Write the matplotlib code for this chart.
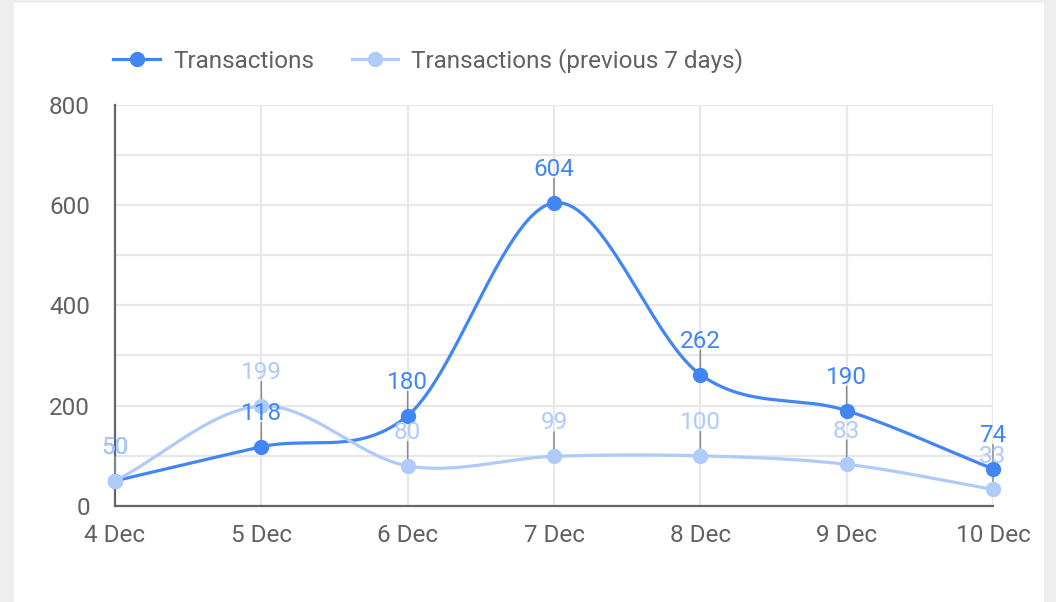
import numpy as np
import matplotlib
matplotlib.use("Agg")
import matplotlib.pyplot as plt
from matplotlib.lines import Line2D
from matplotlib.patches import Rectangle

plt.rcParams['font.family'] = ['Roboto', 'DejaVu Sans']

categories = ["4 Dec", "5 Dec", "6 Dec", "7 Dec", "8 Dec", "9 Dec", "10 Dec"]
transactions = [50, 118, 180, 604, 262, 190, 74]
transactions_prev = [50, 199, 80, 99, 100, 83, 33]
series_names = ["Transactions", "Transactions (previous 7 days)"]
yticks = [0, 200, 400, 600, 800]

DARK = "#4285f4"
LIGHT = "#aecbfa"
TXT = "#616161"
FS = 17.5

W, H = 1056, 602
fig = plt.figure(figsize=(W / 100, H / 100), dpi=100)
fig.patch.set_facecolor("#eeeeee")
fig.add_artist(Rectangle((14 / W, 0), (1044 - 14) / W, 1 - 3 / H,
                         transform=fig.transFigure, facecolor="white",
                         edgecolor="none", zorder=0))

ax = fig.add_axes([115 / W, 1 - 506 / H, (993 - 115) / W, (506 - 104.5) / H])
ax.set_facecolor("none")


def smooth(y, n=60):
    y = np.asarray(y, float)
    x = np.arange(len(y), dtype=float)
    m = np.zeros_like(y)
    m[1:-1] = (y[2:] - y[:-2]) / 2
    m[0] = y[1] - y[0]
    m[-1] = y[-1] - y[-2]
    xs, ys = [], []
    for i in range(len(y) - 1):
        t = np.linspace(0, 1, n)
        h00 = 2 * t**3 - 3 * t**2 + 1
        h10 = t**3 - 2 * t**2 + t
        h01 = -2 * t**3 + 3 * t**2
        h11 = t**3 - t**2
        xs.append(x[i] + t)
        ys.append(h00 * y[i] + h10 * m[i] + h01 * y[i + 1] + h11 * m[i + 1])
    return np.concatenate(xs), np.concatenate(ys)


x = np.arange(len(categories))

# stems
for vals in (transactions, transactions_prev):
    for xi, v in zip(x, vals):
        ax.annotate("", xy=(xi, v), xytext=(0, 17.5), textcoords="offset points",
                    arrowprops=dict(arrowstyle="-", color="#8a8a8a", lw=1.1,
                                    shrinkA=0, shrinkB=0),
                    annotation_clip=False, zorder=2)

for vals, col, z in ((transactions, DARK, 3), (transactions_prev, LIGHT, 4)):
    sx, sy = smooth(vals)
    ax.plot(sx, sy, color=col, lw=2.3, clip_on=False, zorder=z, solid_capstyle="round")
    ax.plot(x, vals, "o", color=col, ms=10, clip_on=False, zorder=z)

for vals, col in ((transactions, DARK), (transactions_prev, LIGHT)):
    for xi, v in zip(x, vals):
        ax.annotate(str(v), xy=(xi, v), xytext=(0, 24), textcoords="offset points",
                    ha="center", va="center", color=col, fontsize=FS,
                    annotation_clip=False, zorder=6)

ax.set_xlim(0, len(categories) - 1)
ax.set_ylim(0, 800)
ax.set_xticks(x)
ax.set_xticklabels(categories)
ax.set_yticks(yticks)
ax.set_yticks([100, 300, 500, 700], minor=True)
ax.tick_params(axis="both", which="both", length=0, labelsize=FS, colors=TXT)
ax.tick_params(axis="x", pad=13)
ax.tick_params(axis="y", pad=18)
ax.grid(True, which="both", color="#e8e8e8", lw=1.6, zorder=0)
ax.set_axisbelow(True)
for s in ("top", "right"):
    ax.spines[s].set_visible(False)
for s in ("left", "bottom"):
    ax.spines[s].set_color("#666666")
    ax.spines[s].set_linewidth(1.6)
    ax.spines[s].set_zorder(1)

# legend
ly = 1 - 59 / H
ty = 1 - 61 / H
for (x0, x1, tx), col, name in (((113, 160, 173), DARK, series_names[0]),
                                ((352, 398, 411), LIGHT, series_names[1])):
    fig.add_artist(Line2D([x0 / W, x1 / W], [ly, ly], transform=fig.transFigure,
                          color=col, lw=2.3))
    fig.add_artist(Line2D([(x0 + x1) / 2 / W], [ly], transform=fig.transFigure,
                          color=col, marker="o", ms=10))
    fig.text(tx / W, ty, name, color=TXT, fontsize=FS, va="center", ha="left")

fig.savefig("out.png", dpi=100, facecolor=fig.get_facecolor())
